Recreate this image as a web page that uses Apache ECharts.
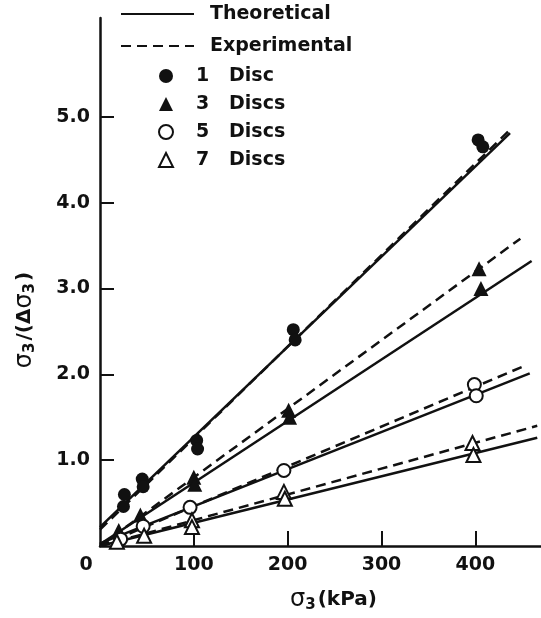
<!DOCTYPE html>
<html lang="en">
<head>
<meta charset="UTF-8">
<title>sigma3 / delta sigma3</title>
<script src="https://cdn.jsdelivr.net/npm/echarts@6/dist/echarts.min.js"></script>
<style>html,body{margin:0;padding:0;background:#fff;}</style>
</head>
<body>
<div id="main" style="width:541px;height:618px;"></div>
<script type="text/javascript">
// axis ticks / labels
var xTicks = [100, 200, 300, 400];
var xLabels = [0, 100, 200, 300, 400];
var yTicks = [1, 2, 3, 4, 5];

// measured points [sigma3 kPa, sigma3/delta sigma3]
var disc1 = [[26, 0.60], [25, 0.46], [45, 0.78], [46, 0.69], [103, 1.23], [104, 1.13], [206, 2.52], [208, 2.40], [403, 4.73], [408, 4.65]];
var disc3 = [[20, 0.18], [43, 0.36], [100, 0.80], [101, 0.72], [201, 1.58], [202, 1.50], [404, 3.23], [406, 3.00]];
var disc5 = [[22, 0.08], [46, 0.23], [96, 0.45], [196, 0.88], [399, 1.88], [401, 1.75]];
var disc7 = [[18, 0.05], [47, 0.12], [98, 0.30], [98, 0.22], [196, 0.63], [197, 0.55], [397, 1.20], [398, 1.06]];

// fitted lines (end points)
var theo1 = [[0, 0.22], [437, 4.81]];
var exp1 = [[0, 0.19], [439, 4.87]];
var theo3 = [[0, 0.02], [460, 3.32]];
var exp3 = [[0, 0.00], [448, 3.58]];
var theo5 = [[0, 0.03], [458, 2.01]];
var exp5 = [[0, 0.00], [455, 2.11]];
var theo7 = [[0, 0.00], [466, 1.26]];
var exp7 = [[0, 0.00], [466, 1.40]];

var ink = '#111';
var font = 'DejaVu Sans';

var myChart = echarts.init(document.getElementById('main'));

function lineSeries(name, data, dashed) {
    return {
        name: name,
        type: 'line',
        data: data,
        symbol: 'none',
        silent: true,
        z: 2,
        lineStyle: {color: ink, width: 2.5, type: dashed ? [10, 6] : 'solid'},
        // keeps the legend icon a plain line
        itemStyle: {color: 'rgba(0,0,0,0)', borderWidth: 0}
    };
}

function pointSeries(name, data, symbol, open, size) {
    return {
        name: name,
        type: 'scatter',
        data: data,
        symbol: symbol,
        symbolSize: size,
        z: 5,
        itemStyle: open ? {color: '#fff', borderColor: ink, borderWidth: 2, opacity: 1} : {color: ink, opacity: 1}
    };
}

var option = {
    backgroundColor: '#fff',
    animation: false,
    grid: {left: 100, top: 18, right: 0, bottom: 69, containLabel: false},
    legend: [
        {
            data: ['Theoretical', 'Experimental'],
            orient: 'vertical',
            left: 120, top: 4,
            padding: 0,
            itemWidth: 73, itemHeight: 14, itemGap: 12,
            textStyle: {fontFamily: font, fontWeight: 'bold', fontSize: 19, lineHeight: 20, color: ink, padding: [0, 0, 0, 11]}
        },
        {
            data: ['1 Disc', '3 Discs', '5 Discs', '7 Discs'],
            orient: 'vertical',
            left: 158, top: 66,
            padding: 0,
            itemWidth: 14, itemHeight: 14, itemGap: 8,
            formatter: function (name) { return name.replace(' ', '   '); },
            textStyle: {fontFamily: font, fontWeight: 'bold', fontSize: 19, lineHeight: 20, color: ink, padding: [0, 0, 0, 18]}
        }
    ],
    xAxis: {
        type: 'value',
        min: 0, max: 470,
        splitLine: {show: false},
        axisLine: {lineStyle: {color: ink, width: 2.5}},
        axisTick: {inside: true, length: 15, lineStyle: {color: ink, width: 2}, customValues: xTicks},
        axisLabel: {
            customValues: xLabels,
            margin: 10,
            fontFamily: font, fontWeight: 'bold', fontSize: 19, color: ink,
            formatter: function (v) { return v === 0 ? '{z|0}' : String(v); },
            rich: {z: {fontFamily: font, fontWeight: 'bold', fontSize: 19, color: ink, padding: [0, 28, 0, 0]}}
        },
        name: '{s|σ}{sub|3}{t|(kPa)}',
        nameLocation: 'middle',
        nameGap: 40,
        nameTextStyle: {
            padding: [0, 0, 0, 26],
            rich: {
                s: {fontFamily: font, fontSize: 24, color: ink},
                sub: {fontFamily: font, fontWeight: 'bold', fontSize: 15, color: ink, verticalAlign: 'bottom', padding: [12, 2, 0, 0]},
                t: {fontFamily: font, fontWeight: 'bold', fontSize: 20, color: ink}
            }
        }
    },
    yAxis: {
        type: 'value',
        min: 0, max: 6.15,
        splitLine: {show: false},
        axisLine: {lineStyle: {color: ink, width: 2.5}},
        axisTick: {inside: true, length: 14, lineStyle: {color: ink, width: 2}, customValues: yTicks},
        axisLabel: {
            customValues: yTicks,
            margin: 10,
            fontFamily: font, fontWeight: 'bold', fontSize: 19, color: ink,
            formatter: function (v) { return v.toFixed(1); }
        },
        name: '{s|σ}{sub|3}{t|/(Δ}{s|σ}{sub|3}{t|)}',
        nameLocation: 'middle',
        nameGap: 62,
        nameTextStyle: {
            padding: [0, 76, 0, 0],
            rich: {
                s: {fontFamily: font, fontSize: 24, color: ink},
                sub: {fontFamily: font, fontWeight: 'bold', fontSize: 15, color: ink, verticalAlign: 'bottom', padding: [12, 2, 0, 0]},
                t: {fontFamily: font, fontWeight: 'bold', fontSize: 20, color: ink}
            }
        }
    },
    series: [
        lineSeries('Theoretical', theo1, false),
        lineSeries('Theoretical', theo3, false),
        lineSeries('Theoretical', theo5, false),
        lineSeries('Theoretical', theo7, false),
        lineSeries('Experimental', exp1, true),
        lineSeries('Experimental', exp3, true),
        lineSeries('Experimental', exp5, true),
        lineSeries('Experimental', exp7, true),
        pointSeries('1 Disc', disc1, 'circle', false, 13),
        pointSeries('3 Discs', disc3, 'triangle', false, 15),
        pointSeries('5 Discs', disc5, 'circle', true, 13),
        pointSeries('7 Discs', disc7, 'triangle', true, 14)
    ]
};

myChart.setOption(option);
</script>
</body>
</html>
